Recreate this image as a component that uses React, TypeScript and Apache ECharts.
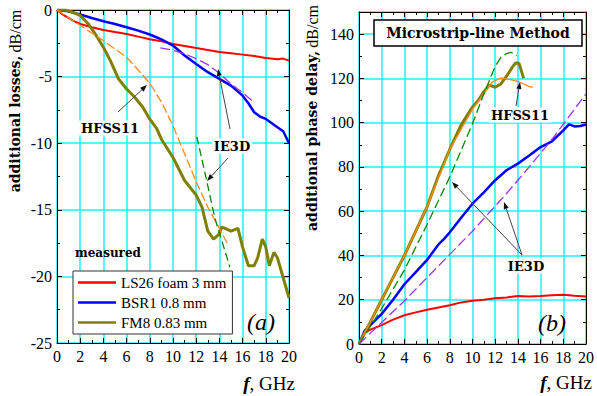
import React, { useEffect, useRef } from "react";
import * as echarts from "echarts";

// ---------- data ----------
// Panel (a): additional losses, dB/cm vs f, GHz
const lossLS26: number[][] = [[0,0],[0.5,-0.35],[1,-0.6],[1.5,-0.85],[2,-1.05],[3,-1.3],[4,-1.5],[5,-1.65],[6,-1.8],[7,-2.0],[8,-2.2],[9,-2.35],[10,-2.55],[11,-2.7],[12,-2.85],[13,-3.0],[14,-3.15],[15,-3.25],[16,-3.35],[17,-3.45],[18,-3.6],[19,-3.7],[19.5,-3.65],[20,-3.8]];
const lossBSR1: number[][] = [[0,0],[1,-0.1],[2,-0.34],[3,-0.6],[4,-0.84],[5,-1.05],[6,-1.29],[7,-1.55],[8,-1.84],[9,-2.2],[10,-2.67],[11,-3.42],[12,-4.05],[13,-4.67],[14,-5.17],[15,-5.68],[16,-6.43],[16.5,-7.0],[17,-7.68],[17.5,-8.0],[18,-8.18],[19,-8.8],[19.5,-9.1],[20,-10.0]];
const lossFM8: number[][] = [[0,0],[0.7,0],[1.3,-0.15],[2,-0.41],[2.7,-1.04],[3.3,-1.8],[4,-2.8],[4.6,-3.8],[5.3,-5.17],[6,-5.93],[6.7,-6.55],[7.4,-7.3],[8,-8.2],[8.6,-8.9],[9,-9.7],[10,-11.07],[11,-12.8],[12,-13.9],[12.5,-14.8],[13,-16.6],[13.5,-17.2],[14,-16.8],[14.2,-16.3],[14.5,-16.4],[15,-16.6],[15.6,-16.4],[16,-17.8],[16.5,-19.2],[17,-19.2],[17.3,-18.6],[17.7,-17.2],[18,-17.8],[18.3,-19.2],[18.7,-18.2],[19,-18.6],[19.5,-20.1],[20,-21.6]];
const lossHFSS11: number[][] = [[0,0],[2,-1.15],[4,-2.3],[6,-3.55],[7,-4.5],[8,-5.5],[9,-6.9],[10,-8.7],[11,-10.8],[12,-12.9],[13,-14.8],[14,-16.4],[14.8,-17.7]];
const lossIE3D_FM8: number[][] = [[12.05,-9.5],[12.9,-12.8],[13.6,-15.6],[14.2,-17.3],[14.9,-19.3]];
const lossIE3D_BSR1: number[][] = [[8.9,-2.85],[10,-3.02],[11,-3.3],[12,-3.65],[13,-4.1],[14,-4.75],[15,-5.55],[16,-6.2],[16.8,-6.8]];

// Panel (b): additional phase delay vs f, GHz
const phaseLS26: number[][] = [[0,0],[0.5,5],[1,6.5],[2,8.5],[3,11],[4,13],[5,14.3],[6,15.5],[7,16.5],[8,17.5],[9,18.8],[10,19.5],[11,20],[12,20.7],[13,21],[14,21.7],[15,21.5],[16,21.7],[17,22],[18,22.2],[19,21.8],[20,21.5]];
const phaseBSR1: number[][] = [[0,0],[0.5,6],[1,8.5],[2,13.6],[3,20],[4,27],[5,32.5],[6,38],[7,45],[7.5,47.5],[8,50.5],[9,57],[10,63.4],[11,68.5],[12,74],[13,78.5],[14,81.5],[15,85.2],[16,89],[17,91.5],[18,96.5],[18.5,99.2],[19,98.3],[19.5,98.5],[20,99.2]];
const phaseFM8: number[][] = [[0,0],[1,10],[2,20],[3,30],[4,40],[5,51],[6,62],[7,76],[8,88],[9,99],[10,107],[10.5,110],[11,114],[11.5,117],[12,116],[12.5,117.5],[13,121],[13.5,125],[13.8,127],[14.1,126.8],[14.3,123.5],[14.5,120]];
const phaseHFSS11: number[][] = [[0,0],[2,20],[4,40],[6,62],[8,88],[10,106],[11,113],[11.7,118.2],[12.5,120.2],[13.1,119.7],[14,118.7],[15,116.3],[15.3,116]];
const phaseIE3D_FM8: number[][] = [[0,0],[2,16],[4,33.5],[6,54],[8,75.5],[10,99.5],[11,113],[12,125.5],[12.5,129.5],[13,131.2],[13.4,131.8],[13.9,130.3]];
const phaseIE3D_BSR1: number[][] = [[0,0],[4,19.5],[8,40.5],[10,51],[13,68],[15,80],[17,92.5],[20,113]];

const legendNames = ["LS26 foam 3 mm", "BSR1 0.8 mm", "FM8 0.83 mm"];

const SERIF = "Liberation Serif";
const BOLD_SERIF = "DejaVu Serif";
const RED = "#ff0000";
const BLUE = "#0000ff";
const OLIVE = "#808000";
const ORANGE = "#ff8a1a";
const GREEN = "#008a00";
const PURPLE = "#9933ff";

function arrow(x1: number, y1: number, x2: number, y2: number) {
  const a = Math.atan2(y2 - y1, x2 - x1);
  const len = 7, w = 2.6;
  const c = Math.cos(a), s = Math.sin(a);
  const bx = x2 - len * c, by = y2 - len * s;
  return [
    { type: "line", shape: { x1, y1, x2: bx, y2: by }, style: { stroke: "#444", lineWidth: 1 }, z: 50 },
    { type: "polygon", shape: { points: [[x2, y2], [bx + w * s, by - w * c], [bx - w * s, by + w * c]] }, style: { fill: "#111" }, z: 50 },
  ];
}

function label(text: string, x: number, y: number, size = 13, extra: any = {}) {
  return {
    type: "text", x, y, z: 40,
    style: {
      text, fontFamily: BOLD_SERIF, fontSize: size, fontWeight: "bold", fill: "#000",
      align: "center", verticalAlign: "middle", backgroundColor: "#fff", padding: [1, 2], ...extra,
    },
  };
}

function xAxes(grid: number) {
  const base = {
    type: "value", gridIndex: grid, min: 0, max: 20, interval: 2,
    axisLine: { show: true, onZero: false, lineStyle: { color: "#000", width: 1 } },
    axisTick: { show: true, inside: true, length: 5, lineStyle: { color: "#000" } },
    minorTick: { show: true, splitNumber: 2, length: 3, lineStyle: { color: "#000" } },
  };
  return [
    { ...base, position: "bottom",
      axisLabel: { show: true, margin: 5, color: "#000", fontFamily: SERIF, fontSize: 16 },
      splitLine: { show: true, lineStyle: { color: "#22eeff", width: 1.5 } } },
    { ...base, position: "top", axisLabel: { show: false }, splitLine: { show: false } },
  ];
}

function yAxes(grid: number, min: number, max: number, interval: number) {
  const base = {
    type: "value", gridIndex: grid, min, max, interval,
    axisLine: { show: true, onZero: false, lineStyle: { color: "#000", width: 1 } },
    axisTick: { show: true, inside: true, length: 5, lineStyle: { color: "#000" } },
    minorTick: { show: true, splitNumber: 2, length: 3, lineStyle: { color: "#000" } },
  };
  return [
    { ...base, position: "left",
      axisLabel: { show: true, margin: 5, color: "#000", fontFamily: SERIF, fontSize: 16, showMaxLabel: grid === 0 },
      splitLine: { show: true, lineStyle: { color: "#22eeff", width: 1.5 } } },
    { ...base, position: "right", axisLabel: { show: false }, splitLine: { show: false } },
  ];
}

function line(name: string, data: number[][], grid: number, color: string, width: number, dash?: number[], z = 3) {
  return {
    type: "line", name, data, xAxisIndex: grid * 2, yAxisIndex: grid * 2,
    showSymbol: false, symbol: "none", smooth: false, z,
    lineStyle: { color, width, type: dash ? dash : "solid" },
    itemStyle: { color },
  };
}

function axisName(first: string, x: number, y: number) {
  return {
    type: "text", x, y, rotation: Math.PI / 2, z: 40,
    style: {
      text: `{b|${first}} {n|dB/cm}`, align: "center", verticalAlign: "middle",
      rich: {
        b: { fontFamily: BOLD_SERIF, fontSize: 14, fontWeight: "bold", fill: "#000" },
        n: { fontFamily: SERIF, fontSize: 16, fill: "#000" },
      },
    },
  };
}

function fLabel(x: number, y: number) {
  return {
    type: "text", x, y, z: 40,
    style: {
      text: "{f|f}{n|, GHz}", align: "right", verticalAlign: "middle",
      rich: {
        f: { fontFamily: SERIF, fontSize: 19, fontWeight: "bold", fontStyle: "italic", fill: "#000" },
        n: { fontFamily: SERIF, fontSize: 19, fill: "#000" },
      },
    },
  };
}

export default function App() {
  const ref = useRef<HTMLDivElement>(null);
  useEffect(() => {
    document.body.style.margin = "0";
    const chart = echarts.init(ref.current!, undefined, { renderer: "svg" });
    const option: any = {
      animation: false,
      backgroundColor: "#fff",
      textStyle: { fontFamily: SERIF },
      grid: [
        { left: 57, top: 10, width: 232, height: 333 },
        { left: 359, top: 12, width: 231, height: 332 },
      ],
      xAxis: [...xAxes(0), ...xAxes(1)],
      yAxis: [...yAxes(0, -25, 0, 5), ...yAxes(1, 0, 150, 20)],
      legend: {
        data: legendNames,
        left: 73, top: 271, orient: "vertical",
        icon: "rect", itemWidth: 38, itemHeight: 2.5, itemGap: 5,
        padding: [4, 6, 4, 5],
        borderColor: "#333", borderWidth: 1, backgroundColor: "#fff",
        textStyle: { fontFamily: SERIF, fontSize: 15, color: "#000", lineHeight: 15 },
        selectedMode: false, z: 30,
      },
      series: [
        line(legendNames[0], lossLS26, 0, RED, 2),
        line(legendNames[1], lossBSR1, 0, BLUE, 2.5),
        line(legendNames[2], lossFM8, 0, OLIVE, 3),
        line("HFSS11 FM8 (a)", lossHFSS11, 0, ORANGE, 1.3, [9, 3], 4),
        line("IE3D FM8 (a)", lossIE3D_FM8, 0, GREEN, 1.3, [8, 4], 4),
        line("IE3D BSR1 (a)", lossIE3D_BSR1, 0, PURPLE, 1.3, [10, 4], 4),
        line(legendNames[0], phaseLS26, 1, RED, 2),
        line(legendNames[1], phaseBSR1, 1, BLUE, 2.5),
        line(legendNames[2], phaseFM8, 1, OLIVE, 3),
        line("HFSS11 FM8 (b)", phaseHFSS11, 1, ORANGE, 1.3, undefined, 4),
        line("IE3D FM8 (b)", phaseIE3D_FM8, 1, GREEN, 1.3, [9, 4], 4),
        line("IE3D BSR1 (b)", phaseIE3D_BSR1, 1, PURPLE, 1.3, [10, 4], 4),
      ],
      graphic: [
        axisName("additional losses,", 15, 101),
        axisName("additional phase delay,", 312, 118),
        fLabel(295, 383),
        fLabel(592, 382),
        { type: "text", x: 261, y: 322, z: 40, style: { text: "(a)", fontFamily: SERIF, fontSize: 24, fontStyle: "italic", fill: "#000", align: "center", verticalAlign: "middle" } },
        { type: "text", x: 552, y: 323, z: 40, style: { text: "(b)", fontFamily: SERIF, fontSize: 24, fontStyle: "italic", fill: "#000", align: "center", verticalAlign: "middle" } },
        { type: "rect", shape: { x: 374, y: 20, width: 208, height: 26 }, style: { fill: "#fff", stroke: "#000", lineWidth: 1.5 }, z: 39 },
        { type: "text", x: 478, y: 33, z: 40, style: { text: "Microstrip-line Method", fontFamily: BOLD_SERIF, fontSize: 14, fontWeight: "bold", fill: "#000", align: "center", verticalAlign: "middle" } },
        label("measured", 108, 253, 12, { backgroundColor: "transparent" }),
        label("HFSS11", 110, 128),
        label("IE3D", 232, 146),
        label("HFSS11", 520, 115),
        label("IE3D", 526, 266),
        ...arrow(118, 112, 147, 85),
        ...arrow(230, 129, 218, 69),
        ...arrow(228, 158, 207, 181),
        ...arrow(516, 106, 520, 82),
        ...arrow(522, 255, 452, 182),
        ...arrow(522, 255, 504, 202),
      ],
    };
    chart.setOption(option);
    return () => chart.dispose();
  }, []);
  return <div ref={ref} style={{ position: "absolute", left: 0, top: 0, width: 597, height: 396 }} />;
}
